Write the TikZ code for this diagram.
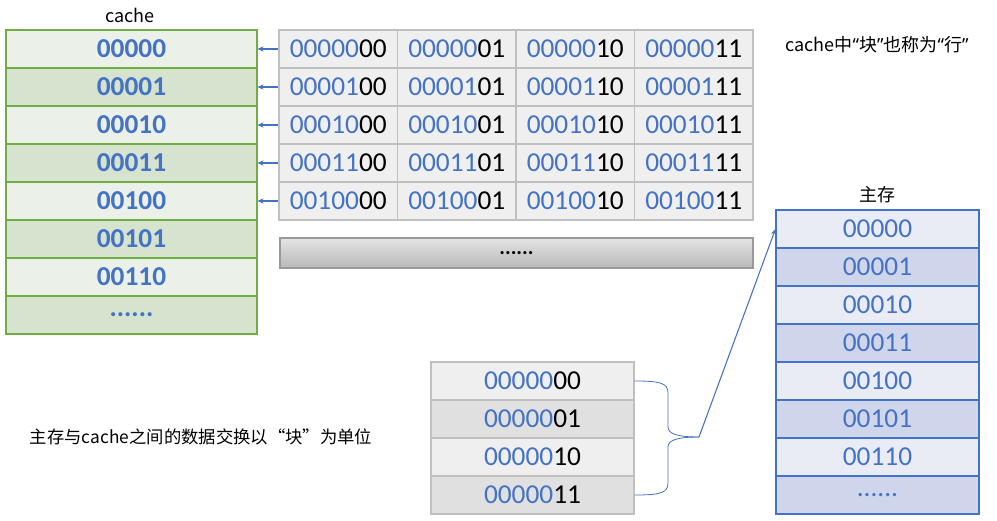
\documentclass[tikz,border=0pt]{standalone}
\usepackage{fontspec}
\setmainfont{Carlito}
\newfontfamily\cjk{Noto Sans CJK SC}
\newfontfamily\quotefont{Noto Sans}
\usetikzlibrary{arrows.meta}
\definecolor{numblue}{HTML}{4472C4}
\definecolor{cgreen}{HTML}{70AD47}
\definecolor{cfillA}{HTML}{EBF1E9}
\definecolor{cfillB}{HTML}{D5E3CF}
\definecolor{mfillA}{HTML}{E9EBF5}
\definecolor{mfillB}{HTML}{CFD5EA}
\definecolor{gline}{HTML}{BFBFBF}
\definecolor{gfill}{HTML}{EFEFEF}
\definecolor{gfillB}{HTML}{E0E0E0}
\newcommand{\addr}[2]{\textcolor{numblue}{#1}#2}
\newcommand{\sixdots}{......}
\newcommand{\nq}[1]{{\quotefont #1}}
\begin{document}
\begin{tikzpicture}[x=0.75pt,y=-0.75pt,
  lbl/.style={font=\cjk\fontsize{13.5}{16}\selectfont},
  crow/.style={draw=cgreen,line width=0.8pt,minimum width=188.25pt,minimum height=28.5pt,inner sep=0pt,font=\fontsize{20.5}{24}\selectfont\bfseries,text=numblue},
  mrow/.style={crow,draw=numblue,minimum width=152.25pt,font=\fontsize{20.5}{24}\selectfont},
  gcell/.style={draw=gline,line width=0.8pt,minimum width=88.875pt,minimum height=28.5pt,inner sep=0pt,font=\fontsize{20.5}{24}\selectfont},
  brow/.style={gcell,minimum width=152.25pt},
  arr/.style={numblue,line width=0.8pt,-{Stealth[length=4.5pt,width=4pt]}}]
  \useasboundingbox (0,0) rectangle (997,521);
  % cache
  \node[lbl] (ctitle) at (130,15) {cache};
  \foreach \lab [count=\i from 0] in {00000,00001,00010,00011,00100,00101,00110,\sixdots}{
    \ifodd\i \def\cf{cfillB}\else \def\cf{cfillA}\fi
    \node[crow,fill=\cf] (c\i) at (131.5,{49+38*\i}) {\lab};
  }
  % blocks of main memory, one row per cache line
  \foreach \pre [count=\i from 0] in {00000,00001,00010,00011,00100}{
    \foreach \suf [count=\j from 0] in {00,01,10,11}{
      \node[gcell,fill=gfill] (g\i-\j) at ({338.25+118.5*\j},{49+38*\i}) {\addr{\pre}{\suf}};
    }
    \draw[arr] (g\i-0.west) -- (c\i.east);
  }
  \node[draw=gline!80!black,line width=0.8pt,top color=gfill!90!gray,bottom color=gline!90!gray,
    minimum width=354.75pt,minimum height=22.5pt,font=\fontsize{16}{18}\selectfont\bfseries] (more) at (516.5,253) {\sixdots};
  % main memory
  \node[lbl] (mtitle) at (877,195) {主存};
  \foreach \lab [count=\i from 0] in {00000,00001,00010,00011,00100,00101,00110,\sixdots}{
    \ifodd\i \def\cf{mfillB}\else \def\cf{mfillA}\fi
    \node[mrow,fill=\cf] (m\i) at (877.5,{229+38*\i}) {\lab};
  }
  % one block
  \foreach \suf [count=\i from 0] in {00,01,10,11}{
    \ifodd\i \def\cf{gfillB}\else \def\cf{gfill}\fi
    \node[brow,fill=\cf] (b\i) at (532.5,{381+38*\i}) {\addr{00000}{\suf}};
  }
  \coordinate (tip) at (699,437);
  \draw[numblue,line width=0.6pt] (b0.east) .. controls (660,381) and (668,383) .. (668,393) -- (668,427)
    .. controls (668,434) and (678,437) .. (tip);
  \draw[numblue,line width=0.6pt] (b3.east) .. controls (660,495) and (668,493) .. (668,483) -- (668,447)
    .. controls (668,440) and (678,437) .. (tip);
  \draw[arr] (tip) -- (m0.west);
  \node[lbl] (note) at (877,45) {cache中\nq{“}块\nq{”}也称为\nq{“}行\nq{”}};
  \node[lbl,font=\cjk\fontsize{13}{16}\selectfont] (unit) at (201,437) {主存与cache之间的数据交换以“块”为单位};
\end{tikzpicture}
\end{document}
